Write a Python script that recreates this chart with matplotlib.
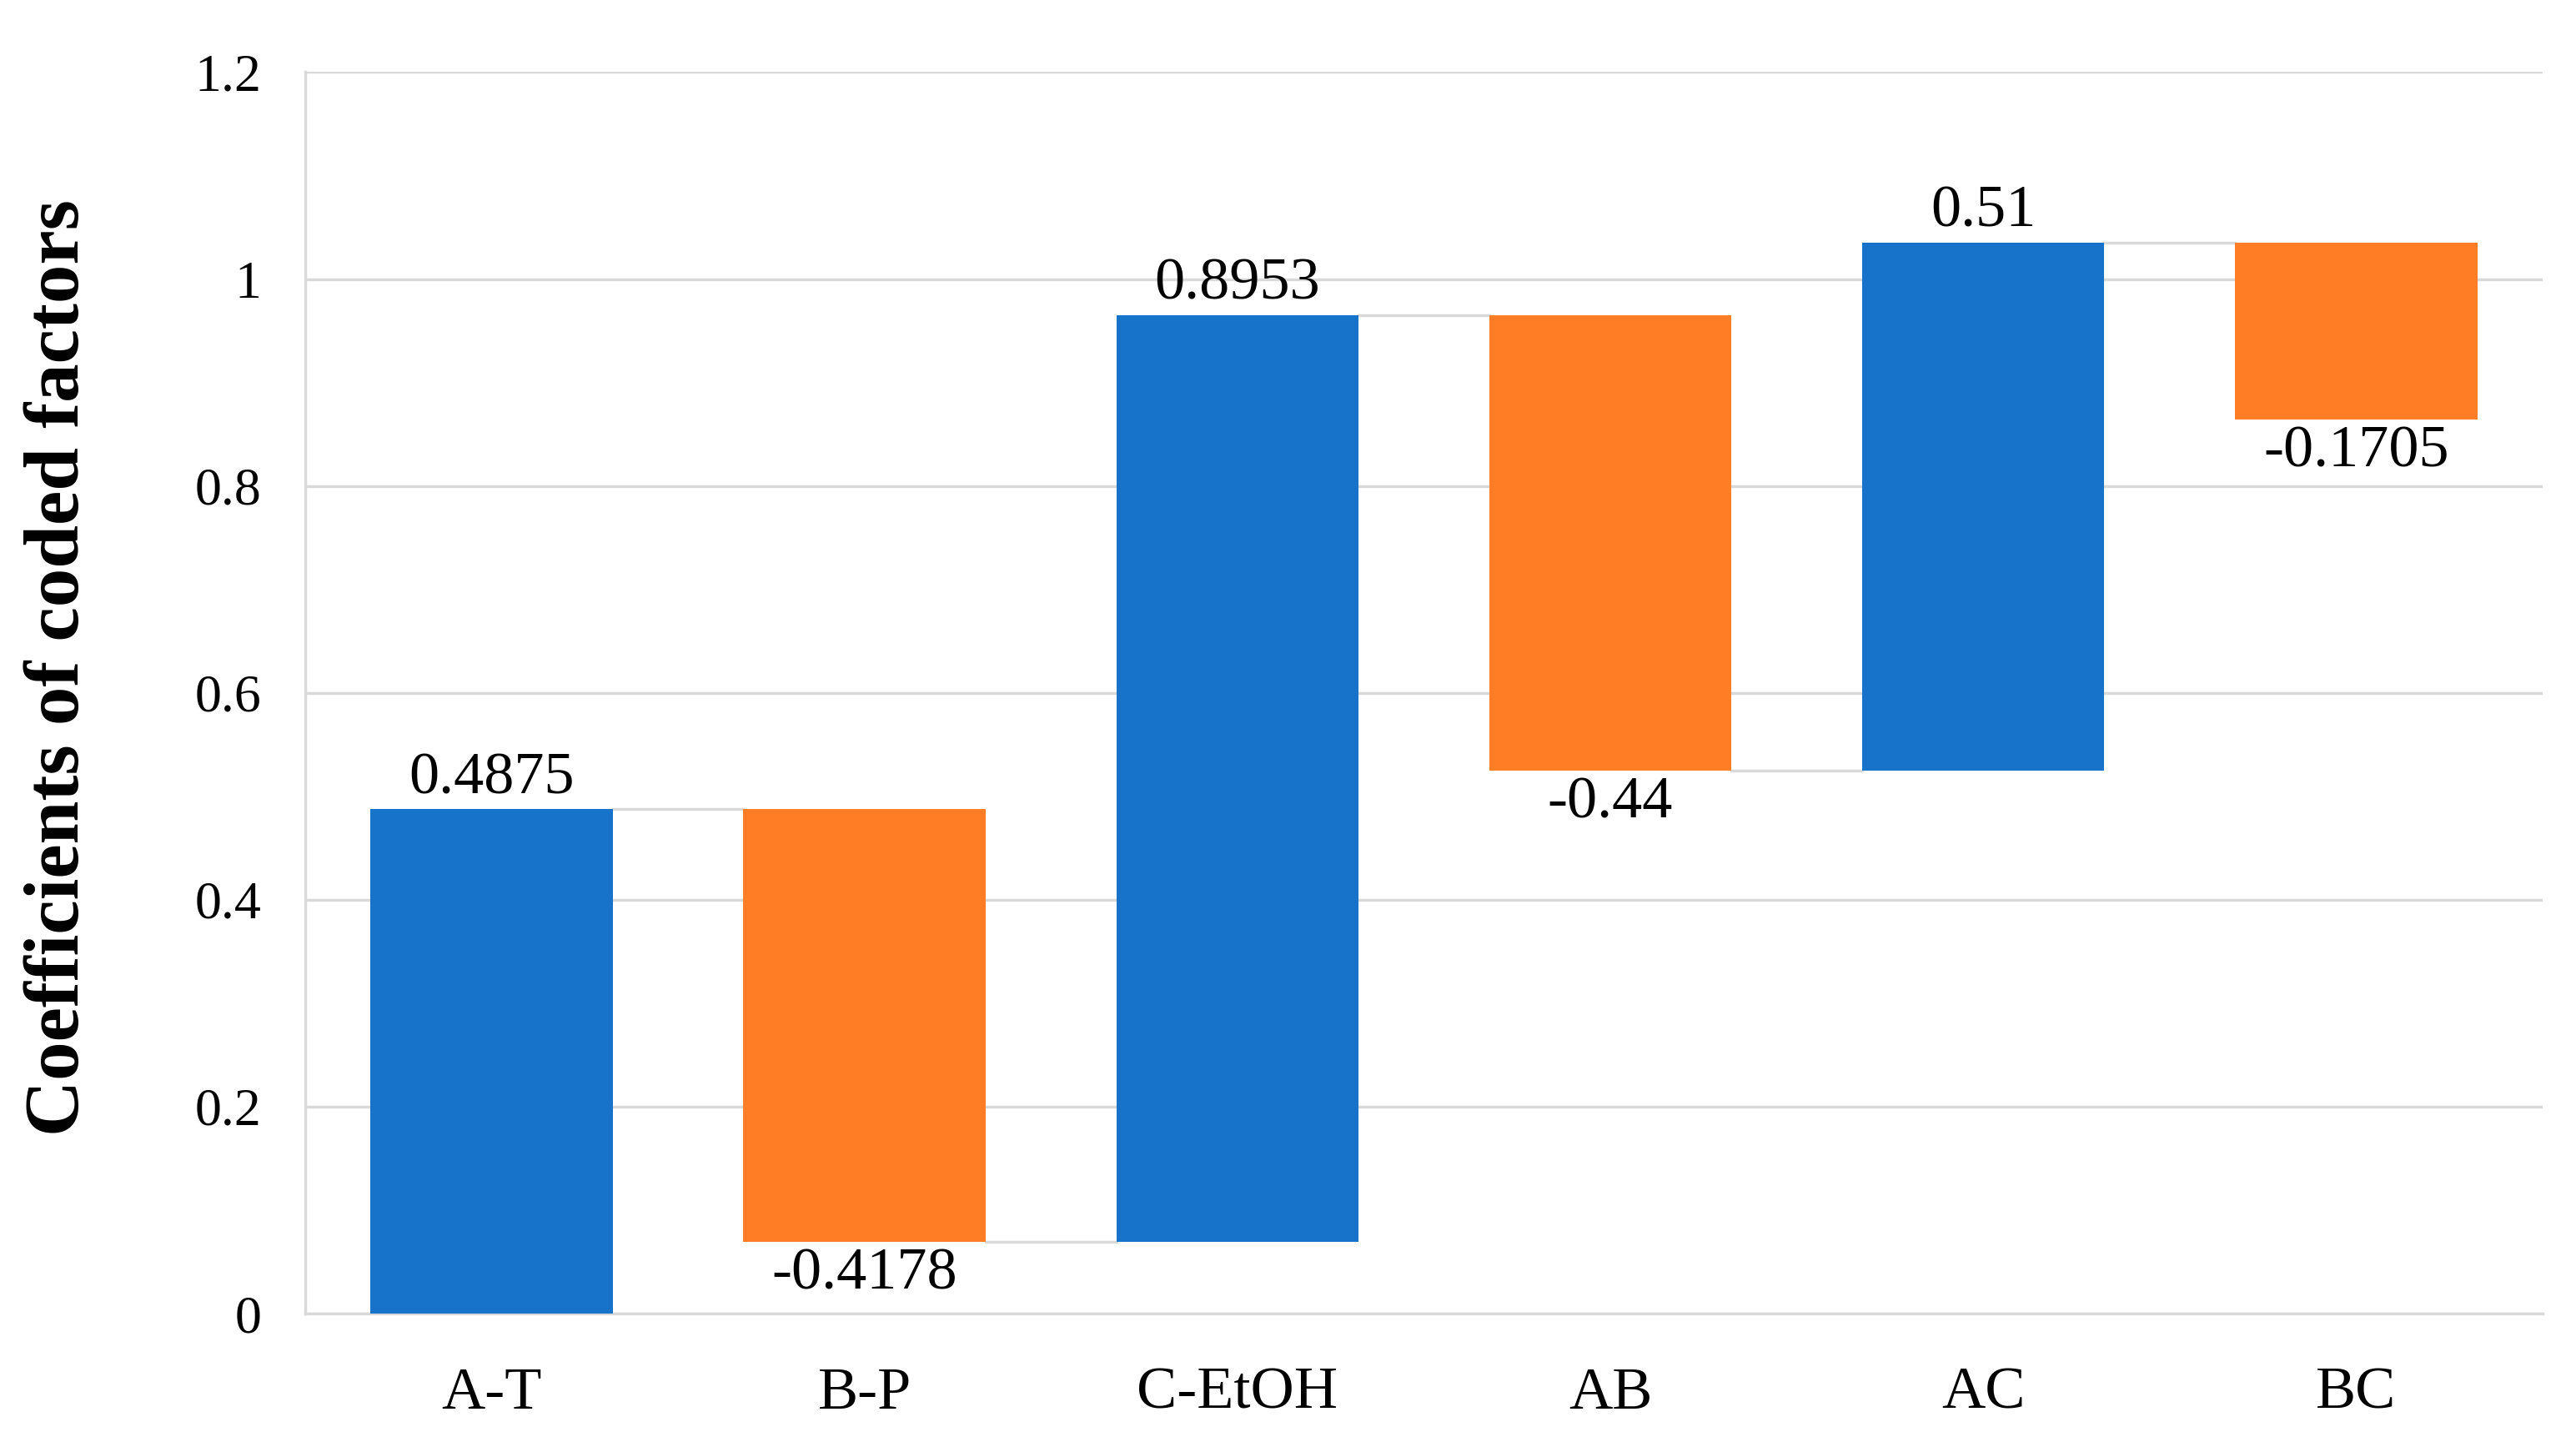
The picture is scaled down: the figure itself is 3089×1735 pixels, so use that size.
import numpy as np
import matplotlib.pyplot as plt

# waterfall data
factors = ['A-T', 'B-P', 'C-EtOH', 'AB', 'AC', 'BC']
coefs = [0.4875, -0.4178, 0.8953, -0.44, 0.51, -0.1705]
labels = ['0.4875', '-0.4178', '0.8953', '-0.44', '0.51', '-0.1705']
yticks = [0, 0.2, 0.4, 0.6, 0.8, 1, 1.2]
yticklabels = ['0', '0.2', '0.4', '0.6', '0.8', '1', '1.2']

blue = '#1772C9'
orange = '#FE7D25'
grey = '#D9D9D9'

plt.rcParams['font.family'] = ['Liberation Serif', 'DejaVu Serif']

vals = np.array(coefs)
ends = np.cumsum(vals)
starts = ends - vals
x = np.arange(len(factors))
w = 0.65

fig = plt.figure(figsize=(30.89, 17.35), dpi=100)
ax = fig.add_axes([0.1185, 0.0922, 0.8685, 0.858])

ax.set_axisbelow(True)
ax.yaxis.grid(True, color=grey, linewidth=2.5)
colors = [blue if v > 0 else orange for v in vals]
ax.bar(x, vals, bottom=starts, width=w, color=colors, zorder=3)

# connectors
for i in range(len(x) - 1):
    ax.plot([x[i] + w / 2, x[i + 1] - w / 2], [ends[i], ends[i]],
            color=grey, linewidth=2.5, zorder=2)

# value labels
for i, v in enumerate(vals):
    top = max(starts[i], ends[i])
    bot = min(starts[i], ends[i])
    if v > 0:
        ax.annotate(labels[i], (x[i], top), xytext=(0, 3), textcoords='offset points',
                    ha='center', va='bottom', fontsize=52)
    else:
        ax.annotate(labels[i], (x[i], bot), xytext=(0, -5), textcoords='offset points',
                    ha='center', va='top', fontsize=52)

ax.set_xlim(-0.5, len(x) - 0.5)
ax.set_ylim(0, 1.2)
ax.set_yticks(yticks)
ax.set_yticklabels(yticklabels)
ax.set_xticks(x)
ax.set_xticklabels(factors)
ax.tick_params(axis='both', length=0)
ax.tick_params(axis='x', pad=46, labelsize=52)
ax.tick_params(axis='y', pad=38, labelsize=46)

for s in ['top', 'right']:
    ax.spines[s].set_visible(False)
for s in ['left', 'bottom']:
    ax.spines[s].set_color(grey)
    ax.spines[s].set_linewidth(2.5)

ax.set_ylabel('Coefficients of coded factors', fontsize=67, fontweight='bold', labelpad=72)
ax.yaxis.set_label_coords(-0.094, 0.52)

fig.savefig('out.png', dpi=100)
